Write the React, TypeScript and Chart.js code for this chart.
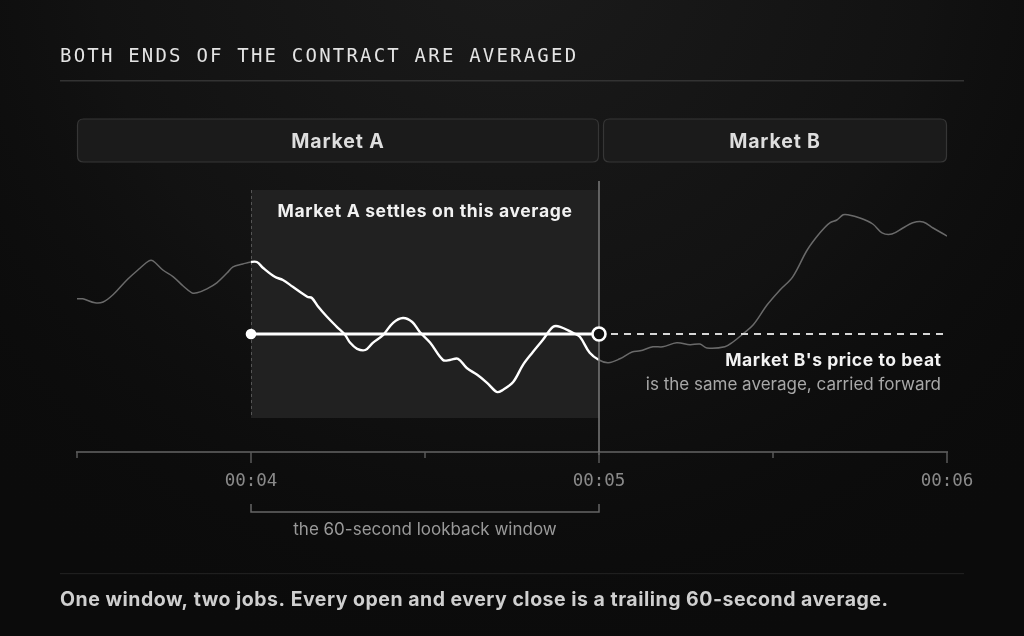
import React, { useEffect, useRef } from "react";
import { Chart, registerables } from "chart.js";

Chart.register(...registerables);

// ---- text ----
const TITLE = "BOTH ENDS OF THE CONTRACT ARE AVERAGED";
const MARKET_NAMES = ["Market A", "Market B"];
const WINDOW_LABEL = "Market A settles on this average";
const CARRY_LABEL = "Market B's price to beat";
const CARRY_SUB = "is the same average, carried forward";
const BRACKET_LABEL = "the 60-second lookback window";
const FOOTER = "One window, two jobs. Every open and every close is a trailing 60-second average.";

// ---- axis (seconds since 00:00) ----
const X_MIN = 210;
const X_MAX = 360;
const TICK_STEP = 30;
const TICK_VALUES = [240, 300, 360];
const TICK_LABELS = ["00:04", "00:05", "00:06"];

// ---- lookback window & average ----
const WINDOW_START = 240;
const WINDOW_END = 300;
const AVERAGE = 100;
const Y_MIN = 70.5;
const Y_MAX = 138.5;

// ---- price series ----
const TIMES = [
  210, 211, 213.1, 214.5, 216.2, 218.6, 220.9, 222.4, 223.1, 224.8, 226.6, 228.3, 229.8, 230.7, 232.4,
  234.1, 235.9, 236.9, 238.6, 240,
  241.0, 242.1, 244.1, 245.5, 247.2, 249.7, 250.5, 251.6, 253.1, 254.8, 256.2, 257.1, 258.3, 259.7,
  261.0, 262.8, 264.5, 266.2, 267.8, 269.1, 270.9, 273.1, 274.3, 275.7, 277.2, 279.0, 280.7, 282.4,
  283.4, 285.2, 286.9, 288.6, 290.3, 292.1, 293.3, 295.5, 296.7, 298.4, 300,
  301.6, 303.6, 305.7, 307.1, 309.3, 311.0, 313.4, 315.7, 317.4, 318.6, 321.7, 323.1, 324.8, 326.6,
  329.0, 331.2, 333.4, 335.9, 338.1, 339.8, 341.0, 342.1, 342.9, 345.0, 347.2, 348.8, 350.5, 352.4,
  354.1, 355.9, 357.6, 360,
];
const PRICES = [
  108.8, 108.8, 107.8, 108.0, 109.8, 113.5, 116.5, 118.3, 118.3, 116.0, 114.3, 112.0, 110.3, 110.3, 111.3,
  112.8, 115.3, 116.8, 117.5, 118.0,
  118.0, 116.5, 114.3, 113.5, 111.8, 109.3, 109.0, 106.8, 104.3, 101.8, 99.8, 97.8, 96.3, 96.0,
  97.8, 99.8, 102.8, 104.0, 103.0, 100.5, 97.8, 93.5, 93.5, 93.8, 91.5, 89.8, 87.8, 85.5,
  86.0, 88.0, 92.3, 95.5, 98.5, 101.8, 101.8, 100.3, 99.3, 95.3, 93.5,
  92.8, 93.8, 95.5, 95.8, 96.8, 96.8, 97.8, 97.3, 97.5, 96.5, 96.8, 98.0, 100.0, 102.3,
  107.3, 111.0, 114.3, 121.0, 125.3, 127.8, 128.5, 129.8, 129.8, 129.0, 127.5, 125.3, 125.0, 126.5,
  127.8, 128.0, 126.5, 124.5,
];

const SANS = "Inter, 'Noto Sans', sans-serif";
const MONO = "'DejaVu Sans Mono', monospace";

function roundRect(ctx: CanvasRenderingContext2D, x: number, y: number, w: number, h: number, r: number) {
  ctx.beginPath();
  ctx.moveTo(x + r, y);
  ctx.lineTo(x + w - r, y);
  ctx.quadraticCurveTo(x + w, y, x + w, y + r);
  ctx.lineTo(x + w, y + h - r);
  ctx.quadraticCurveTo(x + w, y + h, x + w - r, y + h);
  ctx.lineTo(x + r, y + h);
  ctx.quadraticCurveTo(x, y + h, x, y + h - r);
  ctx.lineTo(x, y + r);
  ctx.quadraticCurveTo(x, y, x + r, y);
  ctx.closePath();
}

function spaced(ctx: any, px: number) {
  ctx.letterSpacing = `${px}px`;
}

const decor = {
  id: "decor",
  beforeDraw(chart: any) {
    const { ctx, width, height, chartArea: a } = chart;
    const xs = chart.scales.x;
    const px = (v: number) => xs.getPixelForValue(v);
    ctx.save();
    // background
    ctx.fillStyle = "#0b0b0b";
    ctx.fillRect(0, 0, width, height);
    const g = ctx.createRadialGradient(512, -60, 0, 512, -60, 760);
    g.addColorStop(0, "#1b1b1b");
    g.addColorStop(0.55, "#121212");
    g.addColorStop(1, "rgba(11,11,11,0)");
    ctx.fillStyle = g;
    ctx.fillRect(0, 0, width, height);

    // title
    ctx.fillStyle = "#e4e4e4";
    ctx.font = `19px ${MONO}`;
    spaced(ctx, 2.2);
    ctx.textBaseline = "alphabetic";
    ctx.textAlign = "left";
    ctx.fillText(TITLE, 60, 62);
    spaced(ctx, 0);
    ctx.fillStyle = "#333333";
    ctx.fillRect(60, 80, 904, 1.5);

    // market boxes
    const boxes = [
      [px(X_MIN), px(WINDOW_END)],
      [px(WINDOW_END) + 4, px(X_MAX)],
    ];
    boxes.forEach(([l, r], i) => {
      roundRect(ctx, l + 0.5, a.top - 61, r - l - 1, 43, 6);
      ctx.fillStyle = "#1b1b1b";
      ctx.fill();
      ctx.strokeStyle = "#363636";
      ctx.lineWidth = 1.2;
      ctx.stroke();
      ctx.fillStyle = "#dedede";
      ctx.font = `700 19.5px ${SANS}`;
      spaced(ctx, 0.85);
      ctx.textAlign = "center";
      ctx.textBaseline = "alphabetic";
      ctx.fillText(MARKET_NAMES[i], (l + r) / 2, a.top - 32);
      spaced(ctx, 0);
    });

    // footer
    ctx.fillStyle = "#1f1f1f";
    ctx.fillRect(60, 573, 904, 1.2);
    ctx.fillStyle = "#cfcfcf";
    ctx.font = `700 19.5px ${SANS}`;
    spaced(ctx, 0.5);
    ctx.textAlign = "left";
    ctx.textBaseline = "alphabetic";
    ctx.fillText(FOOTER, 60, 606);
    spaced(ctx, 0);
    ctx.restore();
  },
  beforeDatasetsDraw(chart: any) {
    const { ctx, chartArea: a } = chart;
    const xs = chart.scales.x;
    const l = xs.getPixelForValue(WINDOW_START);
    const r = xs.getPixelForValue(WINDOW_END);
    ctx.save();
    ctx.fillStyle = "#212121";
    ctx.fillRect(l, a.top + 10, r - l, a.bottom - 34 - (a.top + 10));
    ctx.strokeStyle = "#555";
    ctx.lineWidth = 1;
    ctx.setLineDash([3, 3]);
    ctx.beginPath();
    ctx.moveTo(l + 0.5, a.top + 10);
    ctx.lineTo(l + 0.5, a.bottom - 34);
    ctx.stroke();
    ctx.setLineDash([]);
    // window label
    ctx.fillStyle = "#f2f2f2";
    ctx.font = `700 17.5px ${SANS}`;
    spaced(ctx, 0.65);
    ctx.textAlign = "center";
    ctx.textBaseline = "alphabetic";
    ctx.fillText(WINDOW_LABEL, (l + r) / 2, a.top + 37);
    spaced(ctx, 0);
    ctx.restore();
  },
  afterDatasetsDraw(chart: any) {
    const { ctx, chartArea: a } = chart;
    const xs = chart.scales.x;
    const ys = chart.scales.y;
    const l = xs.getPixelForValue(WINDOW_START);
    const r = xs.getPixelForValue(WINDOW_END);
    const yAvg = ys.getPixelForValue(AVERAGE);
    ctx.save();
    // window end vertical line
    ctx.strokeStyle = "#7a7a7a";
    ctx.lineWidth = 1.5;
    ctx.beginPath();
    ctx.moveTo(r, a.top + 1);
    ctx.lineTo(r, a.bottom + 3);
    ctx.stroke();

    // carried-forward dashed line
    ctx.strokeStyle = "#d6d6d6";
    ctx.lineWidth = 2;
    ctx.setLineDash([7, 6]);
    ctx.beginPath();
    ctx.moveTo(r + 12, yAvg);
    ctx.lineTo(xs.getPixelForValue(X_MAX), yAvg);
    ctx.stroke();
    ctx.setLineDash([]);

    // average line
    ctx.strokeStyle = "#ffffff";
    ctx.lineWidth = 3;
    ctx.beginPath();
    ctx.moveTo(l, yAvg);
    ctx.lineTo(r, yAvg);
    ctx.stroke();
    ctx.fillStyle = "#ffffff";
    ctx.beginPath();
    ctx.arc(l, yAvg, 5.3, 0, Math.PI * 2);
    ctx.fill();
    ctx.beginPath();
    ctx.arc(r, yAvg, 6.5, 0, Math.PI * 2);
    ctx.fillStyle = "#111111";
    ctx.fill();
    ctx.lineWidth = 2.6;
    ctx.strokeStyle = "#ffffff";
    ctx.stroke();

    // right labels
    const xr = xs.getPixelForValue(X_MAX) - 6;
    ctx.textAlign = "right";
    ctx.textBaseline = "alphabetic";
    ctx.fillStyle = "#f2f2f2";
    ctx.font = `700 17.5px ${SANS}`;
    spaced(ctx, 0.55);
    ctx.fillText(CARRY_LABEL, xr + 0.55, yAvg + 32);
    spaced(ctx, 0);
    ctx.fillStyle = "#a8a8a8";
    ctx.font = `400 17px ${SANS}`;
    ctx.fillText(CARRY_SUB, xr, yAvg + 56);

    // tick marks
    ctx.strokeStyle = "#5a5a5a";
    ctx.lineWidth = 1.5;
    for (let t = X_MIN; t <= X_MAX; t += TICK_STEP) {
      const x = xs.getPixelForValue(t);
      const major = TICK_VALUES.includes(t);
      ctx.beginPath();
      ctx.moveTo(x, a.bottom);
      ctx.lineTo(x, a.bottom + (major ? 11 : 6));
      ctx.stroke();
    }

    // bracket
    ctx.strokeStyle = "#666666";
    ctx.lineWidth = 1.5;
    ctx.beginPath();
    ctx.moveTo(l, a.bottom + 52);
    ctx.lineTo(l, a.bottom + 60);
    ctx.lineTo(r, a.bottom + 60);
    ctx.lineTo(r, a.bottom + 52);
    ctx.stroke();
    ctx.fillStyle = "#9a9a9a";
    ctx.font = `400 17px ${SANS}`;
    ctx.textAlign = "center";
    ctx.fillText(BRACKET_LABEL, (l + r) / 2, a.bottom + 83);
    ctx.restore();
  },
};

export default function App() {
  const ref = useRef<HTMLCanvasElement | null>(null);
  useEffect(() => {
    document.body.style.margin = "0";
    document.body.style.background = "#0b0b0b";
    const canvas = ref.current!;
    const chart = new Chart(canvas, {
      type: "line",
      data: {
        datasets: [
          {
            data: TIMES.map((t, i) => ({ x: t, y: PRICES[i] })),
            borderColor: "#6a6a6a",
            borderWidth: 1.5,
            pointRadius: 0,
            tension: 0.35,
            fill: false,
            segment: {
              borderColor: (c: any) =>
                c.p0.parsed.x >= WINDOW_START && c.p1.parsed.x <= WINDOW_END ? "#ffffff" : "#6a6a6a",
              borderWidth: (c: any) =>
                c.p0.parsed.x >= WINDOW_START && c.p1.parsed.x <= WINDOW_END ? 2.4 : 1.5,
            },
          } as any,
        ],
      },
      options: {
        animation: false,
        responsive: false,
        devicePixelRatio: 1,
        layout: { padding: { left: 77, right: 77, top: 180, bottom: 144 } },
        plugins: { legend: { display: false }, tooltip: { enabled: false } },
        scales: {
          x: {
            type: "linear",
            min: X_MIN,
            max: X_MAX,
            afterFit: (s: any) => {
              s.height = 40;
            },
            border: { display: true, color: "#4e4e4e", width: 2 },
            grid: { display: true, drawOnChartArea: false, drawTicks: false },
            ticks: {
              stepSize: TICK_STEP,
              autoSkip: false,
              maxRotation: 0,
              padding: 19,
              color: "#8a8a8a",
              font: { family: MONO, size: 17.5 },
              callback: (v: any) => {
                const i = TICK_VALUES.indexOf(Number(v));
                return i >= 0 ? TICK_LABELS[i] : "";
              },
            },
          },
          y: { display: false, min: Y_MIN, max: Y_MAX },
        },
      },
      plugins: [decor],
    });
    return () => chart.destroy();
  }, []);
  return <canvas ref={ref} width={1024} height={636} style={{ display: "block", width: 1024, height: 636 }} />;
}
